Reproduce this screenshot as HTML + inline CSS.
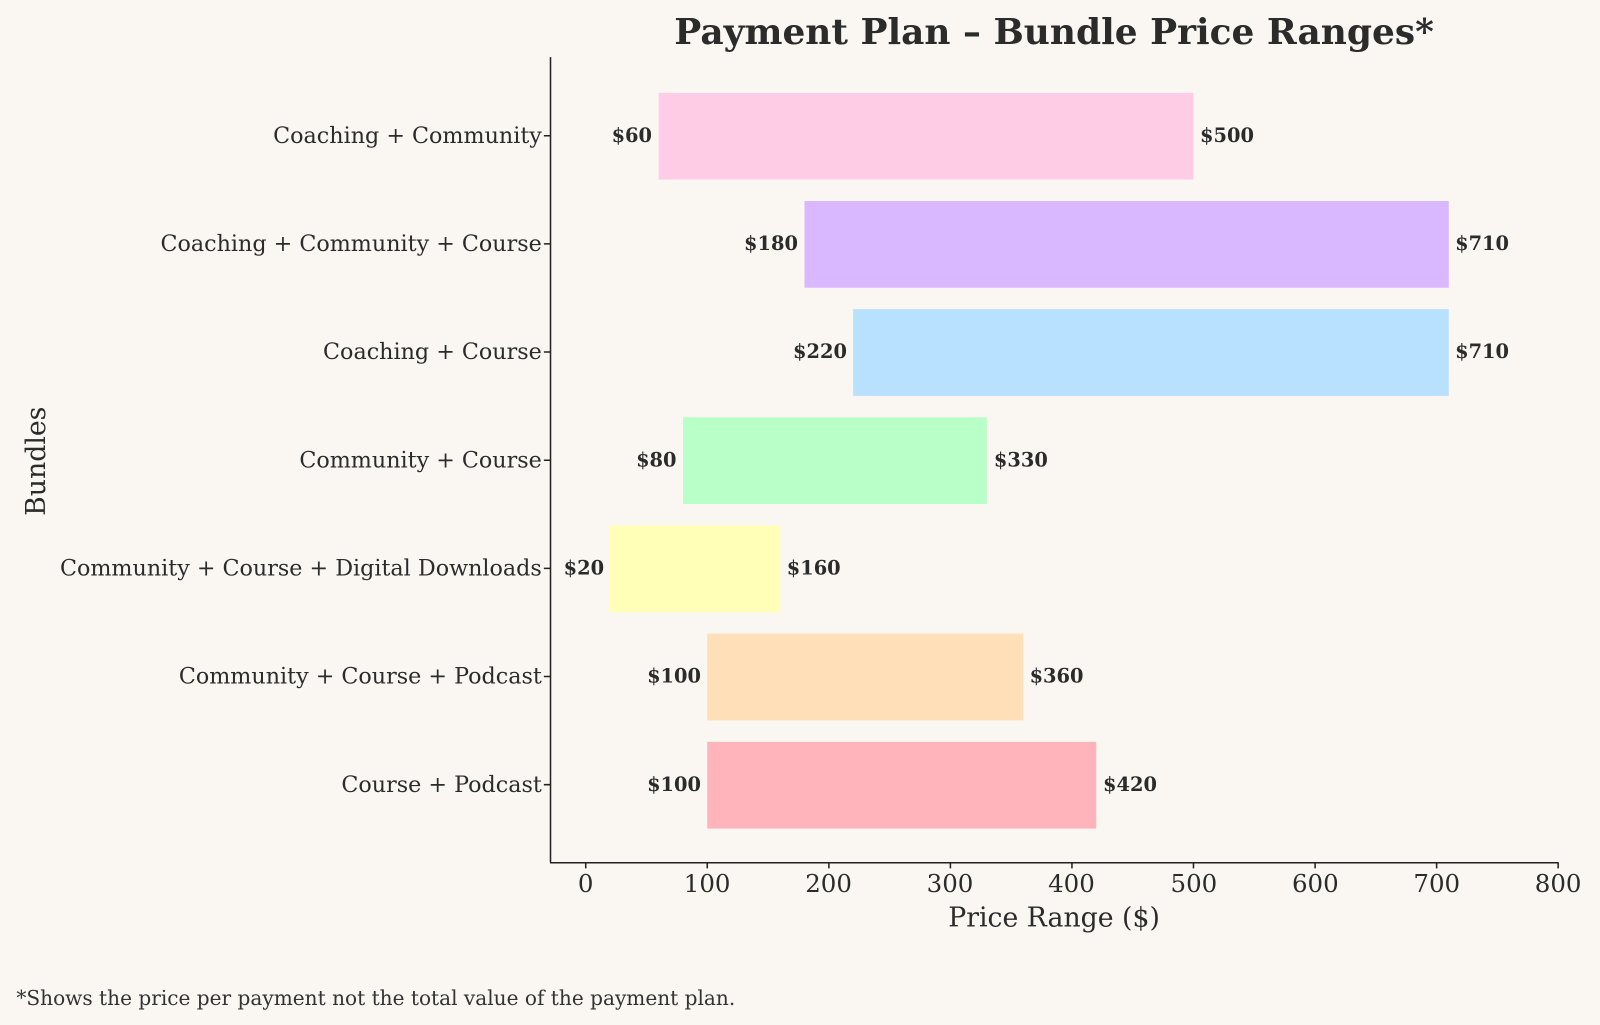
<!DOCTYPE html>
<html><head><meta charset="utf-8"><style>
body{margin:0;background:#faf7f2;}
svg{display:block;font-family:"DejaVu Serif","Liberation Serif",serif;}
</style></head><body>
<svg width="1600" height="1025" viewBox="0 0 1568 1004.5" preserveAspectRatio="none">
<rect width="1568" height="1004.5" fill="#faf7f2"/>
<text x="1033" y="43" text-anchor="middle" font-size="35.2" font-weight="bold" fill="#2b2b2b">Payment Plan – Bundle Price Ranges*</text>
<g>
<rect x="645.5" y="91" width="524.2" height="85" fill="#ffcce5"/>
<rect x="788.4" y="197" width="631.4" height="85" fill="#d9b8ff"/>
<rect x="836.1" y="303" width="583.7" height="85" fill="#b8e0ff"/>
<rect x="669.3" y="409" width="297.8" height="85" fill="#b8ffc8"/>
<rect x="597.8" y="515" width="166.8" height="85" fill="#ffffb8"/>
<rect x="693.1" y="621" width="309.7" height="85" fill="#ffdfb8"/>
<rect x="693.1" y="727" width="381.2" height="85" fill="#ffb3ba"/>
</g>
<g font-size="19" font-weight="bold" fill="#2b2b2b">
<g text-anchor="end">
<text x="639" y="139">$60</text>
<text x="782" y="245">$180</text>
<text x="830" y="351">$220</text>
<text x="663" y="457">$80</text>
<text x="592" y="563">$20</text>
<text x="687" y="669">$100</text>
<text x="687" y="775">$100</text>
</g>
<text x="1176" y="139">$500</text>
<text x="1426" y="245">$710</text>
<text x="1426" y="351">$710</text>
<text x="974" y="457">$330</text>
<text x="771" y="563">$160</text>
<text x="1009" y="669">$360</text>
<text x="1081" y="775">$420</text>
</g>
<g stroke="#222" stroke-width="1.5" fill="none">
<line x1="539.5" y1="56" x2="539.5" y2="845"/>
<line x1="539" y1="845.5" x2="1527" y2="845.5"/>
<path d="M533 133H539M533 239H539M533 345H539M533 451H539M533 557H539M533 663H539M533 769H539"/>
<path d="M574 845V851M693.1 845V851M812.3 845V851M931.4 845V851M1050.5 845V851M1169.6 845V851M1288.8 845V851M1407.9 845V851M1527 845V851"/>
</g>
<g font-size="21.8" fill="#2b2b2b" text-anchor="end">
<text x="531" y="140">Coaching + Community</text>
<text x="531" y="246">Coaching + Community + Course</text>
<text x="531" y="352">Coaching + Course</text>
<text x="531" y="458">Community + Course</text>
<text x="531" y="564">Community + Course + Digital Downloads</text>
<text x="531" y="670">Community + Course + Podcast</text>
<text x="531" y="776">Course + Podcast</text>
</g>
<g font-size="24" fill="#2b2b2b" text-anchor="middle">
<text x="574" y="874">0</text>
<text x="693" y="874">100</text>
<text x="812" y="874">200</text>
<text x="931" y="874">300</text>
<text x="1050" y="874">400</text>
<text x="1170" y="874">500</text>
<text x="1289" y="874">600</text>
<text x="1408" y="874">700</text>
<text x="1527" y="874">800</text>
<text x="1033" y="908" font-size="26.2">Price Range ($)</text>
<text transform="translate(44 452) rotate(-90)" font-size="26.2">Bundles</text>
</g>
<text x="16" y="985" font-size="19.7" fill="#333">*Shows the price per payment not the total value of the payment plan.</text>
</svg>
</body></html>
